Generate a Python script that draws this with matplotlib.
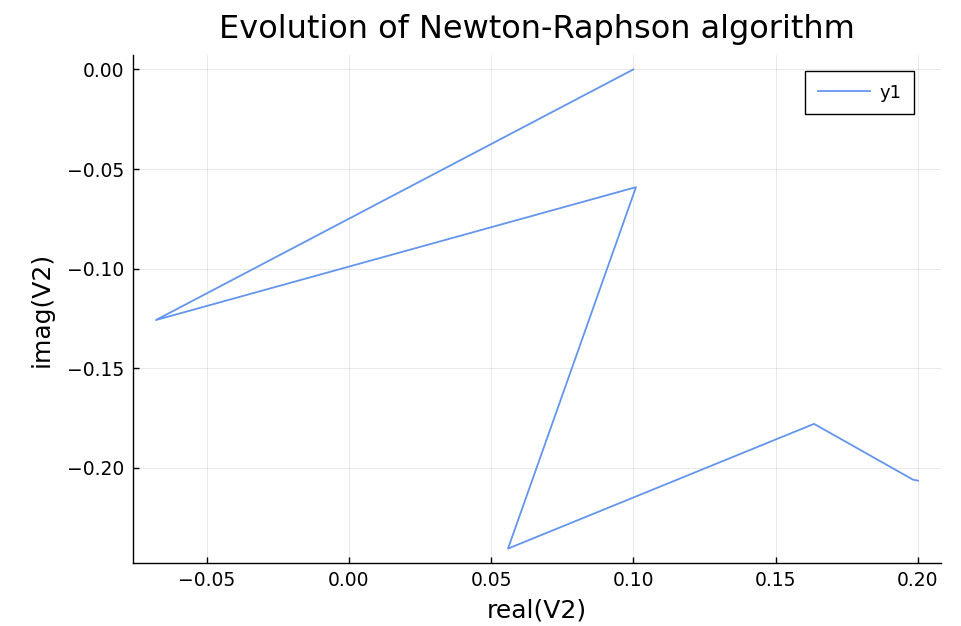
import matplotlib
matplotlib.use("Agg")
import matplotlib.pyplot as plt

real_v2 = [0.1000, -0.0679, 0.1009, 0.0559, 0.1635, 0.1983, 0.2001]
imag_v2 = [0.0000, -0.1258, -0.0591, -0.2405, -0.1779, -0.2059, -0.2064]
xticks = [-0.05, 0.00, 0.05, 0.10, 0.15, 0.20]
yticks = [0.00, -0.05, -0.10, -0.15, -0.20]

fig = plt.figure(figsize=(9.62, 6.26), dpi=100)
ax = fig.add_axes([133/962, 1-563/626, (941-133)/962, (563-55)/626])
ax.plot(real_v2, imag_v2, color="#6495ED", lw=1.3, label="y1")

xmin, xmax = min(real_v2), max(real_v2)
ymin, ymax = min(imag_v2), max(imag_v2)
dx, dy = (xmax-xmin)*0.03, (ymax-ymin)*0.03
ax.set_xlim(xmin-dx, xmax+dx)
ax.set_ylim(ymin-dy, ymax+dy)
ax.set_xticks(xticks)
ax.set_yticks(yticks)
ax.set_xticklabels([f"{t:.2f}".replace("-", "\u2212") for t in xticks])
ax.set_yticklabels([f"{t:.2f}".replace("-", "\u2212") for t in yticks])
ax.grid(True, color="black", alpha=0.1, lw=0.6)
for s in ["top", "right"]:
    ax.spines[s].set_visible(False)
for s in ["left", "bottom"]:
    ax.spines[s].set_linewidth(1.0)
ax.tick_params(direction="in", length=4, width=1, labelsize=13.5, pad=6)
ax.set_xlabel("real(V2)", fontsize=18, labelpad=6)
ax.set_ylabel("imag(V2)", fontsize=18, labelpad=10)
ax.set_title("Evolution of Newton-Raphson algorithm", fontsize=23, pad=12)
leg = ax.legend(loc="upper right", fontsize=13, fancybox=False, edgecolor="black",
                framealpha=1, borderpad=0.7, handlelength=2.9, handletextpad=0.5,
                borderaxespad=0, bbox_to_anchor=((914-133)/808, (563-71)/508))
leg.get_frame().set_linewidth(1.0)
leg._legend_box.sep = 0
fig.savefig("out.png", dpi=100)
